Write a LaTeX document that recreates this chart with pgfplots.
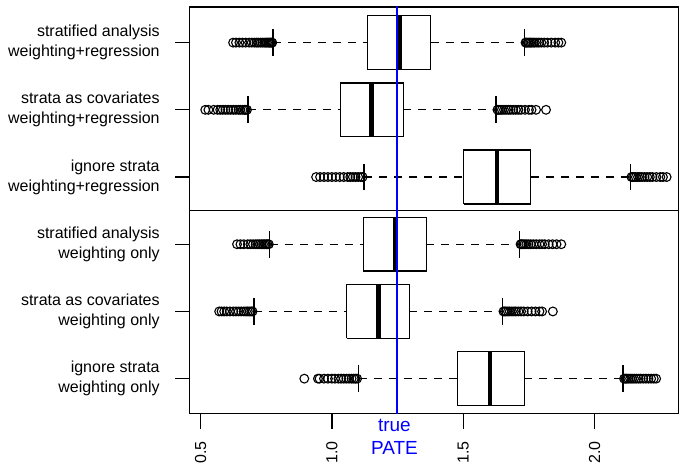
\documentclass[border=0pt]{standalone}
\usepackage{pgfplots}
\pgfplotsset{compat=1.18}
\usepackage{fontspec}
\setmainfont{Liberation Sans}
\definecolor{pateblue}{RGB}{0,0,255}
\begin{document}
\begin{tikzpicture}
\begin{axis}[
  scale only axis, width=489pt, height=407pt,
  xmin=0.4593, xmax=2.3186, ymin=0.48, ymax=6.53,
  axis line style={line width=1.3pt},
  tick pos=left, tick align=outside, major tick length=15pt,
  every tick/.style={black, line width=1.3pt},
  xtick={0.5,1.0,1.5,2.0},
  xticklabel={\pgfmathprintnumber[fixed,fixed zerofill,precision=1,assume math mode=true]{\tick}},
  xticklabel style={yshift=-12.7pt, rotate=90, anchor=east, inner sep=0pt, font=\fontsize{16}{19}\selectfont},
  ytick={1,2,3,4,5,6},
  yticklabels={{ignore strata\\weighting only},{strata as covariates\\weighting only},{stratified analysis\\weighting only},{ignore strata\\weighting+regression},{strata as covariates\\weighting+regression},{stratified analysis\\weighting+regression}},
  yticklabel style={xshift=-15pt, align=right, anchor=east, inner sep=0pt, font=\fontsize{16}{20}\selectfont},
  clip=true,
  wh/.style={black, line width=1.3pt, dash pattern=on 8pt off 7pt},
  cap/.style={black, line width=1.3pt},
  bx/.style={black, line width=1.4pt, line join=miter},
  md/.style={black, line width=4.5pt},
  ol/.style={only marks, mark=o, mark size=4.4pt, mark options={black, line width=1.1pt}},
]
% separator
\addplot[black, line width=1.3pt] coordinates {(0,3.5) (3,3.5)};

% ---- Row 6: stratified analysis, weighting+regression
\addplot[wh] coordinates {(0.776,6) (1.135,6)};
\addplot[wh] coordinates {(1.376,6) (1.733,6)};
\addplot[cap] coordinates {(0.776,5.8) (0.776,6.2)};
\addplot[cap] coordinates {(1.733,5.8) (1.733,6.2)};
\addplot[bx] coordinates {(1.135,5.6) (1.376,5.6) (1.376,6.4) (1.135,6.4) (1.135,5.6)};
\addplot[md] coordinates {(1.258,5.6) (1.258,6.4)};
\addplot[ol] coordinates {
(0.624,6) (0.635,6) (0.648,6) (0.660,6) (0.672,6) (0.685,6) (0.695,6) (0.705,6) (0.713,6) (0.720,6) (0.728,6) (0.735,6) (0.742,6) (0.748,6) (0.753,6) (0.758,6) (0.762,6) (0.766,6) (0.770,6) (0.773,6)
(1.737,6) (1.740,6) (1.745,6) (1.750,6) (1.755,6) (1.760,6) (1.766,6) (1.772,6) (1.780,6) (1.788,6) (1.797,6) (1.808,6) (1.820,6) (1.835,6) (1.850,6) (1.862,6) (1.873,6)};

% ---- Row 5: strata as covariates, weighting+regression
\addplot[wh] coordinates {(0.681,5) (1.033,5)};
\addplot[wh] coordinates {(1.272,5) (1.625,5)};
\addplot[cap] coordinates {(0.681,4.8) (0.681,5.2)};
\addplot[cap] coordinates {(1.625,4.8) (1.625,5.2)};
\addplot[bx] coordinates {(1.033,4.6) (1.272,4.6) (1.272,5.4) (1.033,5.4) (1.033,4.6)};
\addplot[md] coordinates {(1.151,4.6) (1.151,5.4)};
\addplot[ol] coordinates {
(0.518,5) (0.530,5) (0.550,5) (0.565,5) (0.575,5) (0.585,5) (0.595,5) (0.605,5) (0.615,5) (0.625,5) (0.635,5) (0.645,5) (0.652,5) (0.660,5) (0.667,5) (0.672,5) (0.677,5)
(1.630,5) (1.635,5) (1.640,5) (1.647,5) (1.655,5) (1.663,5) (1.672,5) (1.680,5) (1.690,5) (1.700,5) (1.710,5) (1.720,5) (1.735,5) (1.750,5) (1.760,5) (1.777,5) (1.815,5)};

% ---- Row 4: ignore strata, weighting+regression
\addplot[wh] coordinates {(1.122,4) (1.502,4)};
\addplot[wh] coordinates {(1.757,4) (2.136,4)};
\addplot[cap] coordinates {(1.122,3.8) (1.122,4.2)};
\addplot[cap] coordinates {(2.136,3.8) (2.136,4.2)};
\addplot[bx] coordinates {(1.502,3.6) (1.757,3.6) (1.757,4.4) (1.502,4.4) (1.502,3.6)};
\addplot[md] coordinates {(1.629,3.6) (1.629,4.4)};
\addplot[ol] coordinates {
(0.940,4) (0.955,4) (0.970,4) (0.985,4) (1.000,4) (1.015,4) (1.030,4) (1.045,4) (1.060,4) (1.070,4) (1.080,4) (1.090,4) (1.100,4) (1.110,4) (1.117,4)
(2.140,4) (2.145,4) (2.150,4) (2.157,4) (2.165,4) (2.172,4) (2.180,4) (2.190,4) (2.200,4) (2.210,4) (2.220,4) (2.235,4) (2.250,4) (2.260,4) (2.274,4)};

% ---- Row 3: stratified analysis, weighting only
\addplot[wh] coordinates {(0.763,3) (1.120,3)};
\addplot[wh] coordinates {(1.359,3) (1.714,3)};
\addplot[cap] coordinates {(0.763,2.8) (0.763,3.2)};
\addplot[cap] coordinates {(1.714,2.8) (1.714,3.2)};
\addplot[bx] coordinates {(1.120,2.6) (1.359,2.6) (1.359,3.4) (1.120,3.4) (1.120,2.6)};
\addplot[md] coordinates {(1.240,2.6) (1.240,3.4)};
\addplot[ol] coordinates {
(0.639,3) (0.652,3) (0.665,3) (0.680,3) (0.690,3) (0.700,3) (0.710,3) (0.718,3) (0.725,3) (0.732,3) (0.738,3) (0.744,3) (0.750,3) (0.755,3) (0.760,3)
(1.718,3) (1.722,3) (1.727,3) (1.733,3) (1.740,3) (1.748,3) (1.757,3) (1.767,3) (1.778,3) (1.790,3) (1.800,3) (1.810,3) (1.825,3) (1.840,3) (1.855,3) (1.873,3)};

% ---- Row 2: strata as covariates, weighting only
\addplot[wh] coordinates {(0.703,2) (1.056,2)};
\addplot[wh] coordinates {(1.295,2) (1.649,2)};
\addplot[cap] coordinates {(0.703,1.8) (0.703,2.2)};
\addplot[cap] coordinates {(1.649,1.8) (1.649,2.2)};
\addplot[bx] coordinates {(1.056,1.6) (1.295,1.6) (1.295,2.4) (1.056,2.4) (1.056,1.6)};
\addplot[md] coordinates {(1.178,1.6) (1.178,2.4)};
\addplot[ol] coordinates {
(0.571,2) (0.580,2) (0.590,2) (0.600,2) (0.612,2) (0.625,2) (0.635,2) (0.645,2) (0.655,2) (0.665,2) (0.673,2) (0.680,2) (0.687,2) (0.693,2) (0.698,2)
(1.653,2) (1.658,2) (1.663,2) (1.670,2) (1.677,2) (1.685,2) (1.693,2) (1.700,2) (1.710,2) (1.720,2) (1.730,2) (1.745,2) (1.760,2) (1.775,2) (1.790,2) (1.800,2) (1.841,2)};

% ---- Row 1: ignore strata, weighting only
\addplot[wh] coordinates {(1.102,1) (1.477,1)};
\addplot[wh] coordinates {(1.732,1) (2.108,1)};
\addplot[cap] coordinates {(1.102,0.8) (1.102,1.2)};
\addplot[cap] coordinates {(2.108,0.8) (2.108,1.2)};
\addplot[bx] coordinates {(1.477,0.6) (1.732,0.6) (1.732,1.4) (1.477,1.4) (1.477,0.6)};
\addplot[md] coordinates {(1.601,0.6) (1.601,1.4)};
\addplot[ol] coordinates {
(0.895,1) (0.947,1) (0.953,1) (0.970,1) (0.985,1) (1.000,1) (1.012,1) (1.025,1) (1.035,1) (1.045,1) (1.055,1) (1.065,1) (1.075,1) (1.083,1) (1.090,1) (1.096,1)
(2.112,1) (2.117,1) (2.122,1) (2.128,1) (2.135,1) (2.142,1) (2.150,1) (2.158,1) (2.167,1) (2.175,1) (2.185,1) (2.195,1) (2.205,1) (2.215,1) (2.225,1) (2.234,1)};

% true PATE line
\addplot[pateblue, line width=2pt] coordinates {(1.249,0) (1.249,7)};
\coordinate (pate) at (axis cs:1.238,0.48);
\end{axis}
\node[pateblue, anchor=north, align=center, inner sep=0pt, font=\fontsize{19}{23}\selectfont, yshift=-5pt] at (pate) {true\\PATE};
\path (current axis.south west) ++(-190pt,-52pt) coordinate (bbA);
\path (current axis.north east) ++(0pt,7pt) coordinate (bbB);
\path (bbA) rectangle (bbB);
\end{tikzpicture}
\end{document}
